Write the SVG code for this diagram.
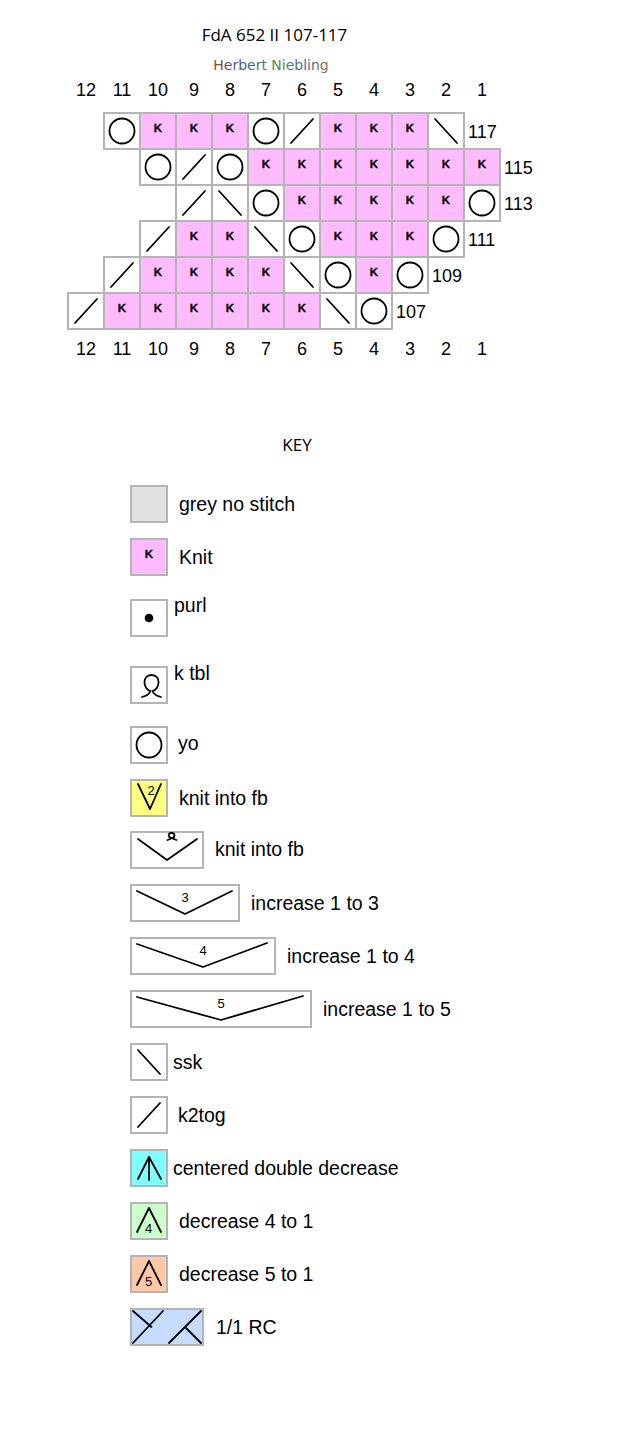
<svg xmlns="http://www.w3.org/2000/svg" width="622" height="1438" viewBox="0 0 622 1438">
<style>
.cell{stroke:#b4b4b4;stroke-width:2}
.w{fill:#fff}.p{fill:#ffbbff}.g{fill:#e0e0e0}.y{fill:#ffff80}.c{fill:#80ffff}.gr{fill:#ccffcc}.pe{fill:#ffc8a8}.b{fill:#c4dcff}
.s{fill:none;stroke:#000;stroke-width:1.8;stroke-linecap:round;stroke-linejoin:round}
.kt{font-family:"Liberation Sans",Arial,sans-serif;font-weight:bold;font-size:11.5px;text-anchor:middle;fill:#000;stroke:#000;stroke-width:0.3}
.num{font-family:"Liberation Sans",Arial,sans-serif;font-size:18px;text-anchor:middle;fill:#000}
.lbl{font-family:"Liberation Sans",Arial,sans-serif;font-size:18px;fill:#000}
.key{font-family:"Liberation Sans",Arial,sans-serif;font-size:19.5px;fill:#000}
.sm{font-family:"Liberation Sans",Arial,sans-serif;font-size:13px;text-anchor:middle;fill:#000}
.ttl{font-family:"Open Sans","Liberation Sans",sans-serif;font-size:17px;text-anchor:middle;fill:#000}
</style>
<defs>
<linearGradient id="hn" x1="0" y1="0" x2="1" y2="0">
<stop offset="0" stop-color="#8a4a2a"/>
<stop offset="0.25" stop-color="#4a5a9a"/>
<stop offset="0.55" stop-color="#5a8a4a"/>
<stop offset="0.8" stop-color="#4a6aa0"/>
<stop offset="1" stop-color="#a06a3a"/>
</linearGradient>
</defs>

<g id="title">
<text class="ttl" x="274.5" y="41">FdA 652 II 107-117</text>
<text x="271" y="70" font-family="'DejaVu Sans','Liberation Sans',sans-serif" font-size="14" text-anchor="middle" fill="url(#hn)">Herbert Niebling</text>
</g>

<g id="colnums-top">
<text class="num" x="86" y="96">12</text><text class="num" x="122" y="96">11</text><text class="num" x="158" y="96">10</text><text class="num" x="194" y="96">9</text><text class="num" x="230" y="96">8</text><text class="num" x="266" y="96">7</text><text class="num" x="302" y="96">6</text><text class="num" x="338" y="96">5</text><text class="num" x="374" y="96">4</text><text class="num" x="410" y="96">3</text><text class="num" x="446" y="96">2</text><text class="num" x="482" y="96">1</text>
</g>
<g id="colnums-bottom">
<text class="num" x="86" y="355">12</text><text class="num" x="122" y="355">11</text><text class="num" x="158" y="355">10</text><text class="num" x="194" y="355">9</text><text class="num" x="230" y="355">8</text><text class="num" x="266" y="355">7</text><text class="num" x="302" y="355">6</text><text class="num" x="338" y="355">5</text><text class="num" x="374" y="355">4</text><text class="num" x="410" y="355">3</text><text class="num" x="446" y="355">2</text><text class="num" x="482" y="355">1</text>
</g>

<g id="row117">
<g id="r117c11"><rect class="cell w" x="104" y="113" width="36" height="36"/><circle class="s" cx="122" cy="131" r="12.5"/></g>
<g id="r117c10"><rect class="cell p" x="140" y="113" width="36" height="36"/><text class="kt" x="158" y="132">K</text></g>
<g id="r117c9"><rect class="cell p" x="176" y="113" width="36" height="36"/><text class="kt" x="194" y="132">K</text></g>
<g id="r117c8"><rect class="cell p" x="212" y="113" width="36" height="36"/><text class="kt" x="230" y="132">K</text></g>
<g id="r117c7"><rect class="cell w" x="248" y="113" width="36" height="36"/><circle class="s" cx="266" cy="131" r="12.5"/></g>
<g id="r117c6"><rect class="cell w" x="284" y="113" width="36" height="36"/><line class="s" x1="291" y1="143" x2="313" y2="119"/></g>
<g id="r117c5"><rect class="cell p" x="320" y="113" width="36" height="36"/><text class="kt" x="338" y="132">K</text></g>
<g id="r117c4"><rect class="cell p" x="356" y="113" width="36" height="36"/><text class="kt" x="374" y="132">K</text></g>
<g id="r117c3"><rect class="cell p" x="392" y="113" width="36" height="36"/><text class="kt" x="410" y="132">K</text></g>
<g id="r117c2"><rect class="cell w" x="428" y="113" width="36" height="36"/><line class="s" x1="435" y1="119" x2="457" y2="143"/></g>
<text class="lbl" x="468" y="137.5">117</text>
</g>

<g id="row115">
<g id="r115c10"><rect class="cell w" x="140" y="149" width="36" height="36"/><circle class="s" cx="158" cy="167" r="12.5"/></g>
<g id="r115c9"><rect class="cell w" x="176" y="149" width="36" height="36"/><line class="s" x1="183" y1="179" x2="205" y2="155"/></g>
<g id="r115c8"><rect class="cell w" x="212" y="149" width="36" height="36"/><circle class="s" cx="230" cy="167" r="12.5"/></g>
<g id="r115c7"><rect class="cell p" x="248" y="149" width="36" height="36"/><text class="kt" x="266" y="168">K</text></g>
<g id="r115c6"><rect class="cell p" x="284" y="149" width="36" height="36"/><text class="kt" x="302" y="168">K</text></g>
<g id="r115c5"><rect class="cell p" x="320" y="149" width="36" height="36"/><text class="kt" x="338" y="168">K</text></g>
<g id="r115c4"><rect class="cell p" x="356" y="149" width="36" height="36"/><text class="kt" x="374" y="168">K</text></g>
<g id="r115c3"><rect class="cell p" x="392" y="149" width="36" height="36"/><text class="kt" x="410" y="168">K</text></g>
<g id="r115c2"><rect class="cell p" x="428" y="149" width="36" height="36"/><text class="kt" x="446" y="168">K</text></g>
<g id="r115c1"><rect class="cell p" x="464" y="149" width="36" height="36"/><text class="kt" x="482" y="168">K</text></g>
<text class="lbl" x="504" y="173.5">115</text>
</g>

<g id="row113">
<g id="r113c9"><rect class="cell w" x="176" y="185" width="36" height="36"/><line class="s" x1="183" y1="215" x2="205" y2="191"/></g>
<g id="r113c8"><rect class="cell w" x="212" y="185" width="36" height="36"/><line class="s" x1="219" y1="191" x2="241" y2="215"/></g>
<g id="r113c7"><rect class="cell w" x="248" y="185" width="36" height="36"/><circle class="s" cx="266" cy="203" r="12.5"/></g>
<g id="r113c6"><rect class="cell p" x="284" y="185" width="36" height="36"/><text class="kt" x="302" y="204">K</text></g>
<g id="r113c5"><rect class="cell p" x="320" y="185" width="36" height="36"/><text class="kt" x="338" y="204">K</text></g>
<g id="r113c4"><rect class="cell p" x="356" y="185" width="36" height="36"/><text class="kt" x="374" y="204">K</text></g>
<g id="r113c3"><rect class="cell p" x="392" y="185" width="36" height="36"/><text class="kt" x="410" y="204">K</text></g>
<g id="r113c2"><rect class="cell p" x="428" y="185" width="36" height="36"/><text class="kt" x="446" y="204">K</text></g>
<g id="r113c1"><rect class="cell w" x="464" y="185" width="36" height="36"/><circle class="s" cx="482" cy="203" r="12.5"/></g>
<text class="lbl" x="504" y="209.5">113</text>
</g>

<g id="row111">
<g id="r111c10"><rect class="cell w" x="140" y="221" width="36" height="36"/><line class="s" x1="147" y1="251" x2="169" y2="227"/></g>
<g id="r111c9"><rect class="cell p" x="176" y="221" width="36" height="36"/><text class="kt" x="194" y="240">K</text></g>
<g id="r111c8"><rect class="cell p" x="212" y="221" width="36" height="36"/><text class="kt" x="230" y="240">K</text></g>
<g id="r111c7"><rect class="cell w" x="248" y="221" width="36" height="36"/><line class="s" x1="255" y1="227" x2="277" y2="251"/></g>
<g id="r111c6"><rect class="cell w" x="284" y="221" width="36" height="36"/><circle class="s" cx="302" cy="239" r="12.5"/></g>
<g id="r111c5"><rect class="cell p" x="320" y="221" width="36" height="36"/><text class="kt" x="338" y="240">K</text></g>
<g id="r111c4"><rect class="cell p" x="356" y="221" width="36" height="36"/><text class="kt" x="374" y="240">K</text></g>
<g id="r111c3"><rect class="cell p" x="392" y="221" width="36" height="36"/><text class="kt" x="410" y="240">K</text></g>
<g id="r111c2"><rect class="cell w" x="428" y="221" width="36" height="36"/><circle class="s" cx="446" cy="239" r="12.5"/></g>
<text class="lbl" x="468" y="245.5">111</text>
</g>

<g id="row109">
<g id="r109c11"><rect class="cell w" x="104" y="257" width="36" height="36"/><line class="s" x1="111" y1="287" x2="133" y2="263"/></g>
<g id="r109c10"><rect class="cell p" x="140" y="257" width="36" height="36"/><text class="kt" x="158" y="276">K</text></g>
<g id="r109c9"><rect class="cell p" x="176" y="257" width="36" height="36"/><text class="kt" x="194" y="276">K</text></g>
<g id="r109c8"><rect class="cell p" x="212" y="257" width="36" height="36"/><text class="kt" x="230" y="276">K</text></g>
<g id="r109c7"><rect class="cell p" x="248" y="257" width="36" height="36"/><text class="kt" x="266" y="276">K</text></g>
<g id="r109c6"><rect class="cell w" x="284" y="257" width="36" height="36"/><line class="s" x1="291" y1="263" x2="313" y2="287"/></g>
<g id="r109c5"><rect class="cell w" x="320" y="257" width="36" height="36"/><circle class="s" cx="338" cy="275" r="12.5"/></g>
<g id="r109c4"><rect class="cell p" x="356" y="257" width="36" height="36"/><text class="kt" x="374" y="276">K</text></g>
<g id="r109c3"><rect class="cell w" x="392" y="257" width="36" height="36"/><circle class="s" cx="410" cy="275" r="12.5"/></g>
<text class="lbl" x="432" y="281.5">109</text>
</g>

<g id="row107">
<g id="r107c12"><rect class="cell w" x="68" y="293" width="36" height="36"/><line class="s" x1="75" y1="323" x2="97" y2="299"/></g>
<g id="r107c11"><rect class="cell p" x="104" y="293" width="36" height="36"/><text class="kt" x="122" y="312">K</text></g>
<g id="r107c10"><rect class="cell p" x="140" y="293" width="36" height="36"/><text class="kt" x="158" y="312">K</text></g>
<g id="r107c9"><rect class="cell p" x="176" y="293" width="36" height="36"/><text class="kt" x="194" y="312">K</text></g>
<g id="r107c8"><rect class="cell p" x="212" y="293" width="36" height="36"/><text class="kt" x="230" y="312">K</text></g>
<g id="r107c7"><rect class="cell p" x="248" y="293" width="36" height="36"/><text class="kt" x="266" y="312">K</text></g>
<g id="r107c6"><rect class="cell p" x="284" y="293" width="36" height="36"/><text class="kt" x="302" y="312">K</text></g>
<g id="r107c5"><rect class="cell w" x="320" y="293" width="36" height="36"/><line class="s" x1="327" y1="299" x2="349" y2="323"/></g>
<g id="r107c4"><rect class="cell w" x="356" y="293" width="36" height="36"/><circle class="s" cx="374" cy="311" r="12.5"/></g>
<text class="lbl" x="396" y="317.5">107</text>
</g>

<g id="connectors"></g>

<g id="key">
<text class="ttl" x="297" y="451" font-size="15">KEY</text>

<g id="key-grey"><rect class="cell g" x="131" y="486" width="36" height="36"/><text class="key" x="179" y="510.5">grey no stitch</text></g>
<g id="key-knit"><rect class="cell p" x="131" y="539" width="36" height="36"/><text class="kt" x="149" y="558">K</text><text class="key" x="179" y="563.5">Knit</text></g>
<g id="key-purl"><rect class="cell w" x="131" y="600" width="36" height="36"/><circle cx="149" cy="618" r="4.3" fill="#000"/><text class="key" x="174" y="612">purl</text></g>
<g id="key-ktbl"><rect class="cell w" x="131" y="667" width="36" height="36"/><path class="s" stroke-width="1.6" d="M142,697 C146,696 149.5,694 150.5,691 C143,689 141.5,675 151.5,675 C161.5,675 160,689 152.5,691 C153.5,694 157,696 161,697"/><text class="key" x="174" y="680">k tbl</text></g>
<g id="key-yo"><rect class="cell w" x="131" y="727" width="36" height="36"/><circle class="s" cx="149" cy="745" r="12.5"/><text class="key" x="178" y="750">yo</text></g>
<g id="key-kfb1"><rect class="cell y" x="131" y="780" width="36" height="36"/><polyline class="s" points="138,784 150,809 161,784"/><text x="151" y="795" font-family="'Liberation Sans',Arial,sans-serif" font-size="13" text-anchor="middle">2</text><text class="key" x="179" y="805">knit into fb</text></g>
<g id="key-kfb2"><rect class="cell w" x="131" y="832" width="72" height="36"/><polyline class="s" points="138,839 167,860 197,839"/><path class="s" stroke-width="1.1" d="M167.5,840 C169.5,839.5 171,839 171.5,838 C168,837.5 167.5,833 171.5,833 C175.5,833 175,837.5 172.5,838 C173,839 174.5,839.5 176.5,840"/><text class="key" x="215" y="856">knit into fb</text></g>
<g id="key-inc3"><rect class="cell w" x="131" y="885" width="108" height="36"/><polyline class="s" points="137,891 185,914 232,891"/><text class="sm" x="185" y="902">3</text><text class="key" x="251" y="909.5">increase 1 to 3</text></g>
<g id="key-inc4"><rect class="cell w" x="131" y="938" width="144" height="36"/><polyline class="s" points="137,944 203,967 267,943"/><text class="sm" x="203" y="955">4</text><text class="key" x="287" y="962.5">increase 1 to 4</text></g>
<g id="key-inc5"><rect class="cell w" x="131" y="991" width="180" height="36"/><polyline class="s" points="137,997 221,1020 303,996"/><text class="sm" x="221" y="1008">5</text><text class="key" x="323" y="1015.5">increase 1 to 5</text></g>
<g id="key-ssk"><rect class="cell w" x="131" y="1044" width="36" height="36"/><line class="s" x1="138" y1="1050" x2="160" y2="1074"/><text class="key" x="173" y="1068.5">ssk</text></g>
<g id="key-k2tog"><rect class="cell w" x="131" y="1097" width="36" height="36"/><line class="s" x1="138" y1="1127" x2="160" y2="1103"/><text class="key" x="178" y="1121.5">k2tog</text></g>
<g id="key-cdd"><rect class="cell c" x="131" y="1150" width="36" height="36"/><polyline class="s" points="138,1179 149,1157 161,1179"/><line class="s" x1="149" y1="1157" x2="149" y2="1180"/><text class="key" x="173" y="1174.5">centered double decrease</text></g>
<g id="key-dec4"><rect class="cell gr" x="131" y="1203" width="36" height="36"/><polyline class="s" points="137,1232 149,1208 161,1232"/><text class="sm" x="148.5" y="1233">4</text><text class="key" x="179" y="1227.5">decrease 4 to 1</text></g>
<g id="key-dec5"><rect class="cell pe" x="131" y="1256" width="36" height="36"/><polyline class="s" points="137,1285 149,1261 161,1285"/><text class="sm" x="148.5" y="1286">5</text><text class="key" x="179" y="1280.5">decrease 5 to 1</text></g>
<g id="key-rc"><rect class="cell b" x="131" y="1309" width="72" height="36"/><line class="s" x1="163" y1="1311" x2="133" y2="1343"/><line class="s" x1="133" y1="1311" x2="151.5" y2="1327"/><line class="s" x1="169" y1="1343" x2="201" y2="1311"/><line class="s" x1="185" y1="1327" x2="201" y2="1343"/><text class="key" x="216" y="1333.5">1/1 RC</text></g>
</g>
</svg>
